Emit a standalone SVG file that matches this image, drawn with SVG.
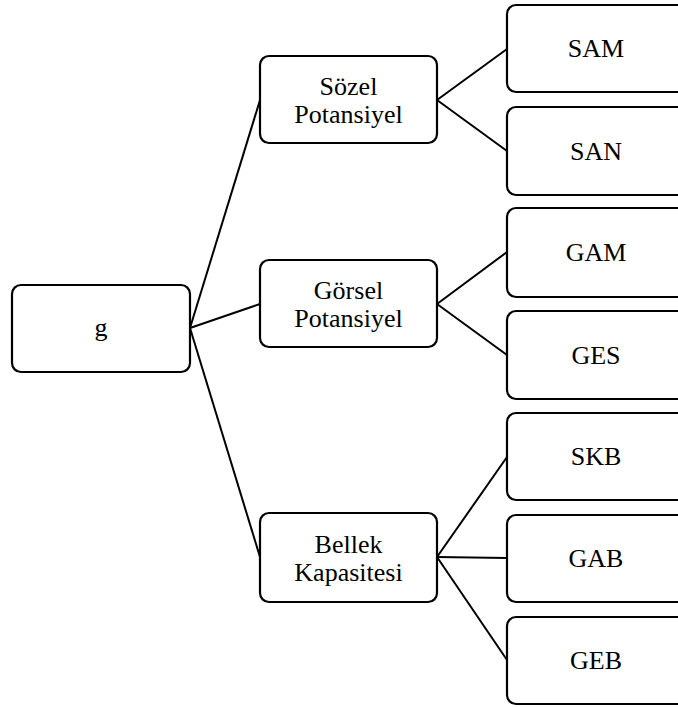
<svg xmlns="http://www.w3.org/2000/svg" width="678" height="707" viewBox="0 0 678 707">
<style>
.box{fill:#fff;stroke:#000;stroke-width:2.2}
.lbl{font-family:"Liberation Serif","Times New Roman","DejaVu Serif",serif;font-size:26px;fill:#000;text-anchor:middle}
.con line{stroke:#000;stroke-width:2}
</style>
<rect width="678" height="707" fill="#fff"/>
<g id="connectors" class="con">
<line x1="190" y1="328" x2="260" y2="100"/>
<line x1="190" y1="328" x2="260" y2="304"/>
<line x1="190" y1="328" x2="260" y2="557"/>
<line x1="437" y1="100" x2="507" y2="49"/>
<line x1="437" y1="100" x2="507" y2="151"/>
<line x1="437" y1="304" x2="507" y2="252"/>
<line x1="437" y1="304" x2="507" y2="355"/>
<line x1="437" y1="557" x2="507" y2="457"/>
<line x1="437" y1="557" x2="507" y2="558"/>
<line x1="437" y1="557" x2="507" y2="660"/>
</g>
<g id="node-g"><rect class="box" x="12" y="285" width="178" height="87" rx="9"/><text class="lbl" x="101" y="336">g</text></g>
<g id="node-sozel"><rect class="box" x="260" y="56" width="177" height="87" rx="9"/><text class="lbl" x="348.5" y="95">Sözel</text><text class="lbl" x="348.5" y="123">Potansiyel</text></g>
<g id="node-gorsel"><rect class="box" x="260" y="260" width="177" height="87" rx="9"/><text class="lbl" x="348.5" y="299">Görsel</text><text class="lbl" x="348.5" y="327">Potansiyel</text></g>
<g id="node-bellek"><rect class="box" x="260" y="513" width="177" height="89" rx="9"/><text class="lbl" x="348.5" y="553">Bellek</text><text class="lbl" x="348.5" y="581">Kapasitesi</text></g>
<g id="node-sam"><rect class="box" x="507" y="5" width="190" height="87" rx="9"/><text class="lbl" x="596" y="57">SAM</text></g>
<g id="node-san"><rect class="box" x="507" y="107" width="190" height="88" rx="9"/><text class="lbl" x="596" y="160">SAN</text></g>
<g id="node-gam"><rect class="box" x="507" y="208" width="190" height="89" rx="9"/><text class="lbl" x="596" y="261">GAM</text></g>
<g id="node-ges"><rect class="box" x="507" y="311" width="190" height="88" rx="9"/><text class="lbl" x="596" y="364">GES</text></g>
<g id="node-skb"><rect class="box" x="507" y="413" width="190" height="87" rx="9"/><text class="lbl" x="596" y="465">SKB</text></g>
<g id="node-gab"><rect class="box" x="507" y="515" width="190" height="87" rx="9"/><text class="lbl" x="596" y="567">GAB</text></g>
<g id="node-geb"><rect class="box" x="507" y="617" width="190" height="87" rx="9"/><text class="lbl" x="596" y="669">GEB</text></g>
</svg>
